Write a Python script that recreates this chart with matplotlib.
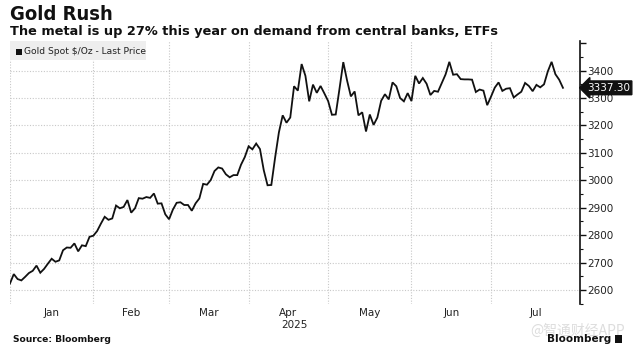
import matplotlib
matplotlib.use("Agg")
import matplotlib.pyplot as plt
import matplotlib.patches as mpatches
from matplotlib.ticker import MultipleLocator, FixedLocator, NullFormatter
import numpy as np
import pandas as pd

# ---------------- data ----------------
title = "Gold Rush"
subtitle = "The metal is up 27% this year on demand from central banks, ETFs"
series_name = "Gold Spot $/Oz - Last Price"
source = "Source: Bloomberg"
last_label = "3337.30"

jan = [2624, 2658, 2640, 2635, 2648, 2662, 2670, 2689, 2663, 2677, 2696, 2714,
       2703, 2708, 2745, 2755, 2754, 2770, 2741, 2763, 2760, 2794, 2798]
feb = [2815, 2842, 2867, 2856, 2861, 2908, 2898, 2903, 2928, 2882, 2898, 2935,
       2933, 2939, 2936, 2952, 2915, 2916, 2876, 2858]
mar = [2893, 2918, 2920, 2910, 2910, 2889, 2916, 2934, 2987, 2984, 3001, 3034,
       3047, 3043, 3022, 3011, 3019, 3019, 3057, 3085, 3124]
apr = [3113, 3134, 3114, 3037, 2982, 2983, 3083, 3175, 3237, 3210, 3229, 3343,
       3327, 3424, 3381, 3288, 3349, 3319, 3344, 3317, 3289]
may = [3239, 3240, 3334, 3431, 3364, 3306, 3324, 3237, 3248, 3178, 3240, 3202,
       3229, 3290, 3314, 3295, 3357, 3343, 3300, 3288, 3318, 3289]
jun = [3381, 3353, 3373, 3352, 3311, 3326, 3323, 3355, 3386, 3432, 3385, 3387,
       3369, 3368, 3368, 3367, 3322, 3331, 3327, 3274, 3305]
jul = [3338, 3357, 3326, 3334, 3336, 3302, 3313, 3323, 3355, 3344, 3325, 3348,
       3339, 3350, 3397, 3432, 3387, 3367, 3337.30]

values = jan + feb + mar + apr + may + jun + jul

# trading days (Bloomberg spacing: weekdays, excluding Jan 1 and Good Friday)
dates = pd.bdate_range("2024-12-31", "2025-07-25")
dates = dates[~dates.isin(pd.to_datetime(["2025-01-01", "2025-04-18"]))]

month_labels = ["Jan", "Feb", "Mar", "Apr", "May", "Jun", "Jul"]
year_label = "2025"
y_ticks = [2600, 2700, 2800, 2900, 3000, 3100, 3200, 3300, 3400, 3500]
y_ticklabels = ["2600", "2700", "2800", "2900", "3000", "3100", "3200", "3300", "3400", ""]

# ---------------- layout ----------------
W, H = 640, 353
fig = plt.figure(figsize=(W / 100, H / 100), dpi=100)
fig.patch.set_facecolor("white")

ax_l, ax_r, ax_t, ax_b = 10, 580, 41, 304
ax = fig.add_axes([ax_l / W, 1 - ax_b / H, (ax_r - ax_l) / W, (ax_b - ax_t) / H])

x = np.arange(len(values))
ax.plot(x, values, color="#111111", lw=1.3, solid_joinstyle="miter", zorder=3)

x_end = len(values) + 3.5
ax.set_xlim(0, x_end)
ax.set_ylim(2549, 3508)

# month boundaries at last trading day of each month
s = pd.Series(np.arange(len(dates)), index=dates)
bounds = list(s.groupby([dates.year, dates.month]).max().values)
grid_x = bounds[:-1]
for gx in grid_x:
    ax.axvline(gx, color="#c8c8c8", lw=0.8, ls=(0, (1, 1.5)), zorder=1)
for yv in y_ticks[:-1]:
    ax.axhline(yv, color="#c8c8c8", lw=0.8, ls=(0, (1, 1.5)), zorder=1)

edges = grid_x + [x_end]
centers = [(edges[i] + edges[i + 1]) / 2 for i in range(len(edges) - 1)]
ax.set_xticks(centers)
ax.set_xticklabels(month_labels, fontsize=7.5, color="#222222", family="DejaVu Sans")
ax.tick_params(axis="x", length=0, pad=3)
fig.text((ax_l + (centers[3] + 1.5) / x_end * (ax_r - ax_l)) / W, 1 - 325 / H,
         year_label, ha="center", va="center", fontsize=7.5, color="#222222")

for sp in ["left", "top", "bottom"]:
    ax.spines[sp].set_visible(False)
ax.spines["right"].set_color("#111111")
ax.spines["right"].set_linewidth(1.2)
ax.yaxis.tick_right()
ax.yaxis.set_major_locator(FixedLocator(y_ticks))
ax.set_yticklabels(y_ticklabels)
ax.yaxis.set_minor_locator(MultipleLocator(50))
ax.yaxis.set_minor_formatter(NullFormatter())
ax.tick_params(axis="y", which="major", direction="out", length=4, width=1,
               color="#111111", labelsize=7.5, labelcolor="#222222", pad=1.5)
ax.tick_params(axis="y", which="minor", direction="out", length=2.5, width=0.8,
               color="#111111")

# last price tag
ax.annotate(last_label, xy=(1.0, values[-1]), xycoords=("axes fraction", "data"),
            xytext=(5, 0), textcoords="offset points", ha="left", va="center",
            fontsize=7.5, color="white",
            bbox=dict(boxstyle="larrow,pad=0.18", fc="#111111", ec="#111111"),
            zorder=6, annotation_clip=False)

# legend box
fig.patches.append(mpatches.Rectangle((10 / W, 1 - 60 / H), 136 / W, 19 / H,
                                      transform=fig.transFigure, fc="#eeeeee",
                                      ec="none", zorder=4))
fig.patches.append(mpatches.Rectangle((16 / W, 1 - 54.5 / H), 6 / W, 6 / H,
                                      transform=fig.transFigure, fc="#111111",
                                      ec="none", zorder=5))
fig.text(24 / W, 1 - 51 / H, series_name, fontsize=6.6, color="#222222",
         ha="left", va="center", zorder=6)

# titles
fig.text(10 / W, 1 - 14 / H, title, fontsize=14.5, fontweight="bold",
         fontstretch="condensed", color="#111111", ha="left", va="center",
         family="DejaVu Sans")
fig.text(10 / W, 1 - 31 / H, subtitle, fontsize=9.3, fontweight="bold",
         color="#111111", ha="left", va="center", family="DejaVu Sans")

# footer
fig.text(13 / W, 1 - 339 / H, source, fontsize=6.6, fontweight="bold",
         color="#111111", ha="left", va="center")
fig.text(578 / W, 1 - 331 / H, "@智通财经APP", fontsize=10, color="#dddddd",
         ha="center", va="center", family=["Noto Sans CJK SC", "DejaVu Sans"],
         zorder=1)
fig.text(611 / W, 1 - 339 / H, "Bloomberg", fontsize=7.5, fontweight="bold",
         color="#111111", ha="right", va="center", zorder=2)
fig.patches.append(mpatches.Rectangle((615 / W, 1 - 343 / H), 7 / W, 8 / H,
                                      transform=fig.transFigure, fc="#111111",
                                      ec="none", zorder=3))

fig.savefig("out.png", dpi=100, facecolor="white")
